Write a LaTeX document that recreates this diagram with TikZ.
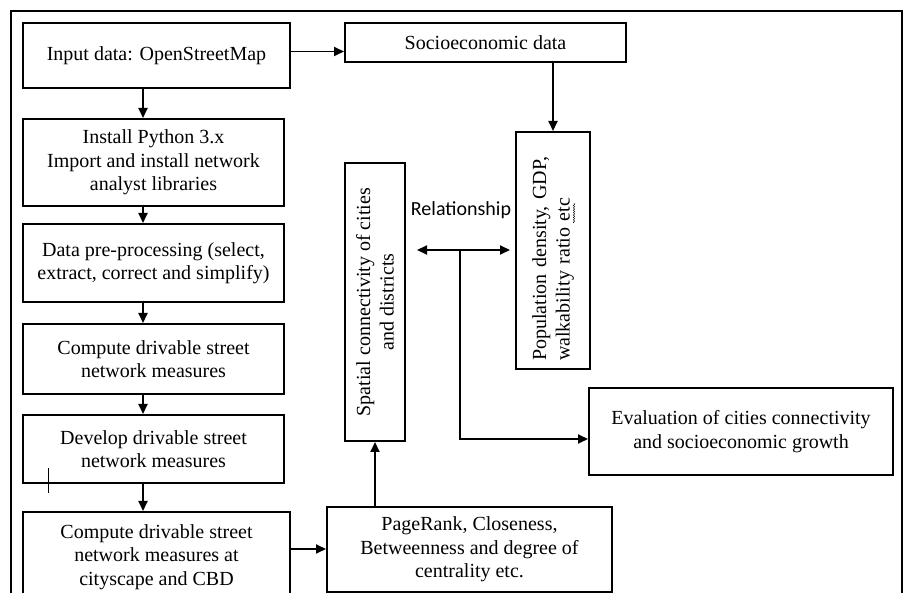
\documentclass[tikz,border=0pt]{standalone}
\usepackage{fontspec}
\setmainfont{Liberation Serif}
\newfontfamily\labelfont{Carlito}
\usetikzlibrary{arrows.meta,positioning,decorations.pathmorphing}

\begin{document}
\begin{tikzpicture}[
    x=1pt, y=-1pt,
    font=\fontsize{20}{23.5}\selectfont,
    node distance=0pt,
    stage/.style={draw, line width=2pt, align=center, inner sep=2pt},
    upright/.style={stage, rotate=90},
    arr/.style={-{Triangle[length=10pt,width=9pt]}, line width=1.8pt},
    twoway/.style={{Triangle[length=10pt,width=9pt]}-{Triangle[length=10pt,width=9pt]}, line width=1.8pt}
]
\useasboundingbox (0,0) rectangle (903,593);
\draw[line width=1.8pt] (11,593) -- (11,11) -- (902,11) -- (902,593);

% left column
\node[stage, minimum width=267pt, minimum height=65pt] (input) at (156.5,55.5) {Input data: OpenStreetMap};
\node[stage, minimum width=261pt, minimum height=87pt, below=29pt of input, xshift=-3pt] (python) {Install Python 3.x\\Import and install network\\analyst libraries};
\node[stage, minimum width=261pt, minimum height=78pt, below=16pt of python] (prep) {Data pre-processing (select,\\extract, correct and simplify)};
\node[stage, minimum width=261pt, minimum height=70pt, below=20pt of prep] (measures) {Compute drivable street\\network measures};
\node[stage, minimum width=261pt, minimum height=68pt, below=19pt of measures] (develop) {Develop drivable street\\network measures};
\node[stage, minimum width=267pt, minimum height=90pt, below=27pt of develop, xshift=3pt] (cbd) {Compute drivable street\\network measures at\\cityscape and CBD};

% right part
\node[stage, minimum width=281pt, minimum height=39pt] (socio) at (485.5,42.5) {Socioeconomic data};
\node[upright, align=left, text width=221pt, inner xsep=8pt, minimum height=74pt] (popn) at (553,250.5) {Population density, GDP,\\walkability ratio etc};
\node[upright, minimum width=278pt, minimum height=60pt] (spatial) at (375,302) {Spatial connectivity of cities\\and districts};
\node[stage, minimum width=285pt, minimum height=85pt] (centrality) at (469.5,549.5) {PageRank, Closeness,\\Betweenness and degree of\\centrality etc.};
\node[stage, minimum width=304pt, minimum height=87pt] (eval) at (741,431.5) {Evaluation of cities connectivity\\and socioeconomic growth};
\node[font=\labelfont\fontsize{20}{24}\selectfont] (rel) at (461,210) {Relationship};

\coordinate (lane) at (143,0);
\coordinate (relL) at (417,250);
\coordinate (relR) at (510,250);
\coordinate (relB) at (460,250);

\foreach \a/\b in {input/python, python/prep, prep/measures, measures/develop, develop/cbd}
  \draw[arr] (\a.south -| lane) -- (\b.north -| lane);
\draw[arr] ([yshift=4pt]input.east) -- ([yshift=4pt]input.east -| socio.west);
\draw[arr] (socio.south -| popn.east) -- (popn.east);
\draw[twoway] (relL) -- (relR);
\draw[arr] (relB) |- ([yshift=-7.5pt]eval.west);
\draw[arr] ([yshift=8pt]cbd.east) -- ([yshift=8pt]cbd.east -| centrality.west);
\draw[arr] (centrality.north -| spatial.west) -- (spatial.west);

% spell-check wave under etc, stray tick
\draw[decorate, decoration={snake, amplitude=0.8pt, segment length=2.4pt}, line width=0.4pt] (574,223) -- (574,203);
\draw[line width=0.8pt] (48,468) -- (48,493);
\end{tikzpicture}
\end{document}
